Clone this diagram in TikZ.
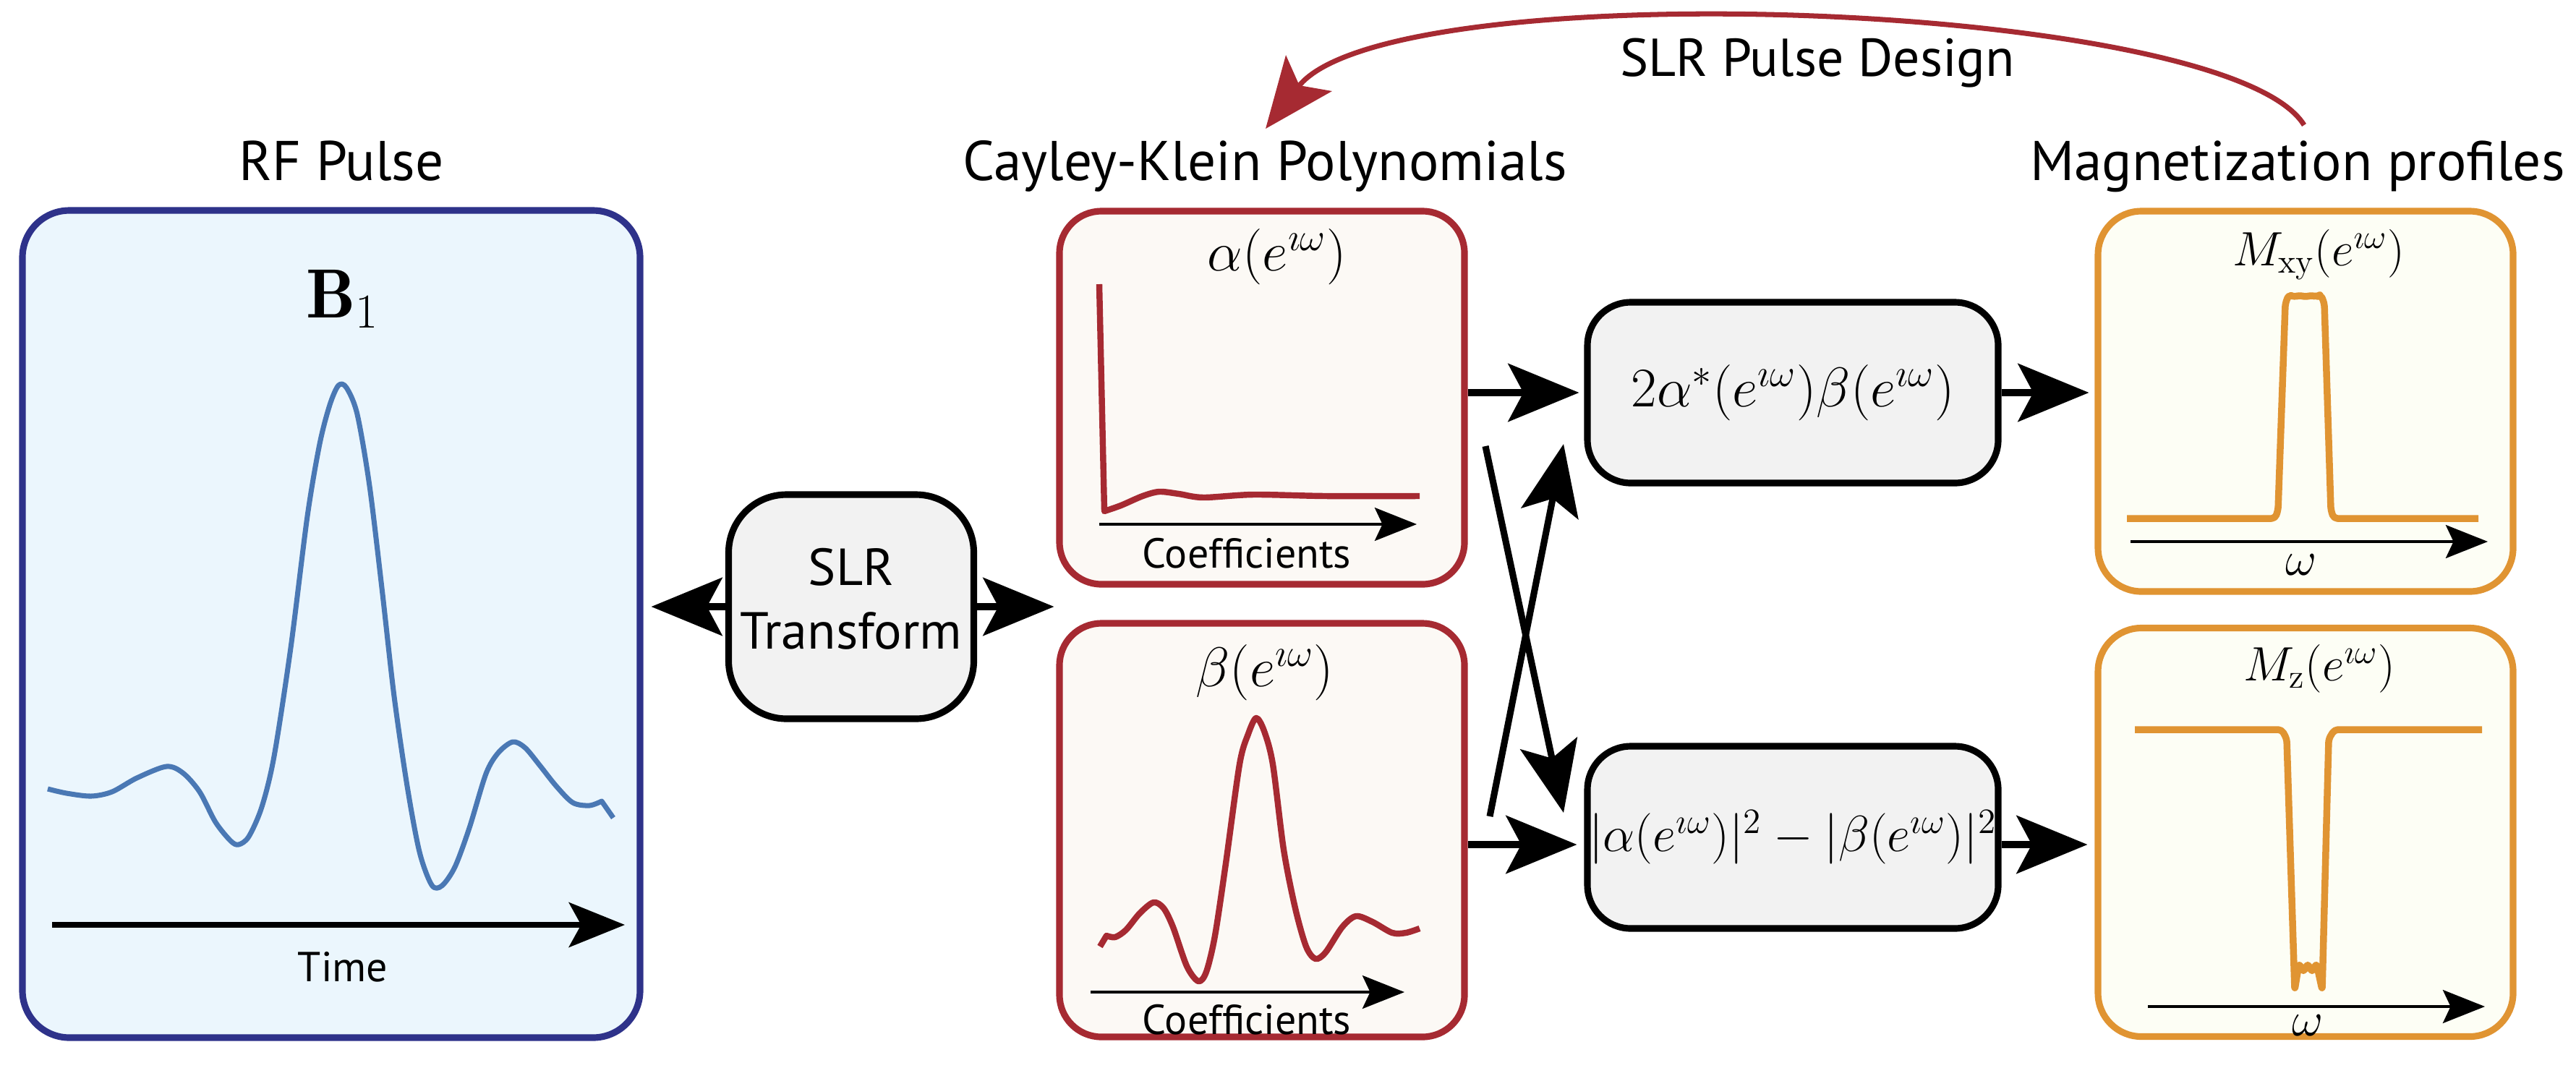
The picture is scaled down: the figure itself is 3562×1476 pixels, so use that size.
\RequirePackage{fix-cm}
\documentclass[tikz,border=0pt]{standalone}
\usepackage{amsmath}
\usepackage{fontspec}
\usepackage{tikz}
\usetikzlibrary{arrows.meta,positioning,calc}
\newfontfamily\labfont{PT Sans}
\definecolor{rfedge}{RGB}{46,50,138}
\definecolor{rffill}{RGB}{235,246,253}
\definecolor{pulseblue}{RGB}{74,120,180}
\definecolor{ckred}{RGB}{166,42,50}
\definecolor{ckfill}{RGB}{252,249,245}
\definecolor{magorange}{RGB}{224,148,50}
\definecolor{magfill}{RGB}{253,254,245}
\definecolor{opfill}{RGB}{242,242,242}
\newcommand{\ttlfont}{\labfont\fontsize{22pt}{26pt}\selectfont}
\newcommand{\axfont}{\labfont\fontsize{16.5pt}{20pt}\selectfont}
\newcommand{\bigmath}{\fontsize{22pt}{26pt}\selectfont}
\newcommand{\midmath}{\fontsize{19pt}{22pt}\selectfont}
\tikzset{
  panel/.style={line width=2.6pt,inner sep=0pt,rounded corners=6mm},
  rfpanel/.style={panel,draw=rfedge,fill=rffill,rounded corners=6.5mm},
  ckpanel/.style={panel,draw=ckred,fill=ckfill,rounded corners=5.8mm},
  magpanel/.style={panel,draw=magorange,fill=magfill},
  opbox/.style={panel,draw=black,fill=opfill,font=\bigmath},
  ttl/.style={font=\ttlfont,anchor=base,inner sep=0pt},
  axlbl/.style={font=\axfont,inner sep=0pt},
  mlbl/.style={font=\bigmath,inner sep=0pt},
  slbl/.style={font=\midmath,inner sep=0pt},
  flow/.style={-{Stealth[length=27.9pt,width=22.8pt,inset=6pt]},line width=2.6pt},
  axis/.style={-{Stealth[length=16.5pt,width=13pt,inset=3pt]},line width=1.4pt},
  timeaxis/.style={-{Stealth[length=22pt,width=17.6pt,inset=4.8pt]},line width=2.2pt},
  pulse/.style={draw=pulseblue,line width=2pt,line join=round},
  coef/.style={draw=ckred,line width=2.4pt,line join=round},
  prof/.style={draw=magorange,line width=2.7pt,line join=round,rounded corners=0.5mm},
  design/.style={draw=ckred,line width=2pt,
    -{Stealth[length=27.6pt,width=22.8pt,inset=6pt]}},
}

\begin{document}
\begin{tikzpicture}[x=0.1mm,y=-0.1mm]
  \useasboundingbox (0,0) rectangle (3562,1476);

  % titles
  \node[ttl] (rftitle)  at (472,249)  {RF Pulse};
  \node[ttl] (cktitle)  at (1749,249) {Cayley-Klein Polynomials};
  \node[ttl] (magtitle) at (3177,249) {Magnetization profiles};

  % panels
  \node[rfpanel,minimum width=85.4mm,minimum height=114.4mm] (rf) at (458,863) {};
  \node[ckpanel,minimum width=56mm,minimum height=51.6mm] (alpha) at (1745,550) {};
  \node[ckpanel,minimum width=56mm,minimum height=57.2mm] (beta) at (1745,1148) {};
  \node[magpanel,minimum width=57.4mm,minimum height=52.6mm] (mxy) at (3188,555) {};
  \node[magpanel,minimum width=57.4mm,minimum height=56.5mm] (mz) at (3188,1151) {};

  \node[opbox,font=\labfont\fontsize{20.5pt}{25pt}\selectfont,align=center,
        text depth=2.2mm,minimum width=33.9mm,minimum height=31mm,rounded corners=8mm]
        (slr) at (1177,839) {SLR\\Transform};
  \node[opbox,minimum width=56.8mm,minimum height=25mm] (top) at (2479,543)
    {$2\alpha^*(e^{\imath\omega})\beta(e^{\imath\omega})$};
  \node[opbox,font=\fontsize{20pt}{24pt}\selectfont,minimum width=56.8mm,
        minimum height=25.2mm] (bot) at (2479,1158)
    {$|\alpha(e^{\imath\omega})|^2-|\beta(e^{\imath\omega})|^2$};

  % RF pulse
  \node[inner sep=0pt,anchor=base,font=\fontsize{27.4pt}{32pt}\selectfont] (bone) at (474,439)
    {$\mathbf{B}_1$};
  \draw[pulse] plot[smooth,tension=0.5] coordinates {(66,1091) (92,1097) (126,1101)
    (155,1095) (189,1076) (230,1060) (253,1069) (276,1095) (298,1137) (319,1163)
    (330,1168) (344,1157) (362,1116) (379,1046) (402,896) (425,714) (442,614)
    (456,560) (468,533) (479,536) (494,573) (511,672) (528,813) (545,963)
    (563,1087) (580,1178) (597,1224) (611,1225) (629,1199) (649,1145) (672,1070)
    (689,1041) (709,1026) (726,1034) (746,1058) (769,1087) (792,1110) (815,1114)
    (832,1108)} -- (848,1131);
  \draw[timeaxis] (72,1279) -- (864,1279);
  \node[axlbl] (time) at (474,1337) {Time};

  % alpha
  \node[mlbl] (alab) at (1766,355) {$\alpha(e^{\imath\omega})$};
  \draw[coef] (1520,393) -- plot[smooth,tension=0.5] coordinates {(1527,707)
    (1550,699) (1580,686) (1603,680) (1630,683) (1664,688) (1733,684) (1833,686)
    (1963,686)};
  \draw[axis] (1520,725) -- (1959,725);
  \node[axlbl] (acoef) at (1724,765) {Coefficients};

  % beta
  \node[mlbl] (blab) at (1749,930) {$\beta(e^{\imath\omega})$};
  \draw[coef] (1521,1309) -- plot[smooth,tension=0.5] coordinates {(1530,1294)
    (1542,1296) (1557,1286) (1576,1263) (1595,1248) (1609,1256) (1622,1282)
    (1641,1336) (1657,1357) (1668,1344) (1680,1294) (1695,1194) (1714,1057)
    (1726,1015) (1737,993) (1748,1011) (1760,1057) (1775,1175) (1791,1256)
    (1806,1309) (1819,1326) (1833,1317) (1856,1282) (1875,1267) (1898,1275)
    (1925,1290) (1944,1290) (1963,1284)};
  \draw[axis] (1508,1372) -- (1942,1372);
  \node[axlbl] (bcoef) at (1724,1410) {Coefficients};

  % Mxy
  \node[slbl] (mxylab) at (3206,352) {$M_{\mathrm{xy}}(e^{\imath\omega})$};
  \draw[prof] (2941,717) -- (3146,717) -- (3150,705) -- (3160,420) -- (3165,407)
    -- (3172,411) -- (3180,408) -- (3188,411) -- (3196,408) -- (3204,411)
    -- (3209,407) -- (3214,420) -- (3223,705) -- (3227,717) -- (3427,717);
  \draw[axis] (2946,749) -- (3440,749);
  \node[slbl] (wxy) at (3182,781) {$\omega$};

  % Mz
  \node[slbl] (mzlab) at (3207,925) {$M_{\mathrm{z}}(e^{\imath\omega})$};
  \draw[prof] (2952,1009) -- (3155,1009) -- (3162,1022) -- (3173,1369)
    -- (3179,1332) -- (3185,1345) -- (3191,1332) -- (3197,1345) -- (3203,1332)
    -- (3211,1369) -- (3220,1022) -- (3228,1009) -- (3432,1009);
  \draw[axis] (2970,1392) -- (3436,1392);
  \node[slbl] (wz) at (3191,1418) {$\omega$};

  % connectors
  \draw[flow,shorten >=1.1mm] (slr.west) -- (slr.west -| rf.east);
  \draw[flow,shorten >=0.3mm] (slr.east) -- (slr.east -| alpha.west);
  \draw[flow,shorten >=0.7mm] (top.west -| alpha.east) -- (top.west);
  \draw[flow,shorten >=1mm] ([yshift=-1mm]bot.west -| beta.east) -- ([yshift=-1mm]bot.west);
  \draw[flow,shorten >=0.8mm] (top.east) -- (top.east -| mxy.west);
  \draw[flow,shorten >=1mm] ([yshift=-1mm]bot.east) -- ([yshift=-1mm]bot.east -| mz.west);

  \coordinate (crossa) at (2054,617);
  \coordinate (crossb) at (2162,1124);
  \coordinate (crossc) at (2060,1129);
  \coordinate (crossd) at (2162,614);
  \draw[flow] (crossa) -- (crossb);
  \draw[flow] (crossc) -- (crossd);

  % SLR pulse design loop
  \coordinate (loopstart) at (3186,173);
  \coordinate (loopend) at (1750,178);
  \draw[design] (loopstart) .. controls (3080,0) and (1920,-40) .. (loopend);
  \node[ttl,font=\labfont\fontsize{21pt}{25pt}\selectfont] (designlbl) at (2513,105)
    {SLR Pulse Design};
\end{tikzpicture}
\end{document}
